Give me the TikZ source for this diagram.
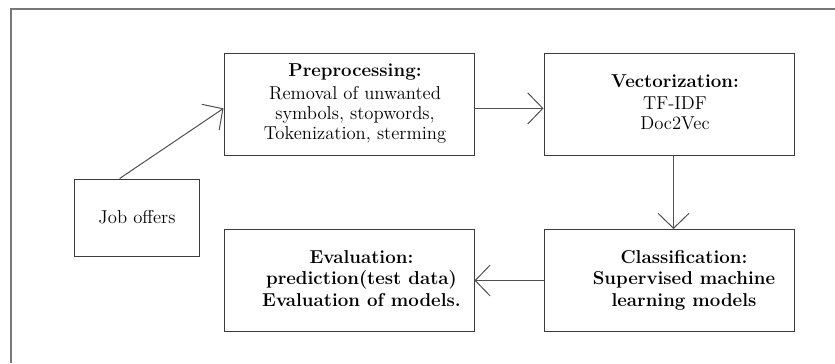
\documentclass[tikz,border=0pt]{standalone}
\usepackage{tikz}
\usetikzlibrary{arrows.meta}
\definecolor{cframe}{RGB}{120,120,120}
\definecolor{cline}{RGB}{60,60,60}
\definecolor{carrow}{RGB}{80,80,80}
% text block of a stage, moved off centre by #1 (right) and #2 (up)
\newcommand{\stagetext}[3]{%
  \hspace*{#1}\raisebox{#2}{\begin{tabular}{@{}c@{}}#3\end{tabular}}}
\begin{document}
\begin{tikzpicture}[
  x=0.6pt,y=-0.6pt,
  font=\fontsize{11.2pt}{12pt}\selectfont,
  >={Straight Barb[length=9pt,width=18.6pt]},
  stagebox/.style={draw=cline,line width=0.6pt,align=center,
                   minimum width=150pt,minimum height=61.2pt,inner sep=0pt},
  boldstage/.style={stagebox,font=\fontsize{11.2pt}{13pt}\selectfont\bfseries},
  flow/.style={carrow,->,line width=0.6pt},
]
\useasboundingbox (0,0) rectangle (835,363);

% ===== FRAME =====
\draw[cframe,line width=1.5pt] (11,363)--(11,9)--(835,9);

% ===== STAGES =====
\node[draw=cline,line width=0.6pt,minimum width=75pt,minimum height=46.2pt,inner sep=0pt]
  (job) at (137,217.5) {Job offers};
\node[stagebox] (pre) at (349,104)
  {\stagetext{7.2pt}{0.6pt}{\textbf{Preprocessing:}\\[2pt]Removal of unwanted\\symbols, stopwords,\\Tokenization, sterming}};
\node[stagebox] (vec) at (669,104)
  {\stagetext{7.2pt}{-3pt}{\textbf{Vectorization:}\\[1.2pt]TF-IDF\\Doc2Vec}};
\node[boldstage] (eva) at (349,280.5)
  {\stagetext{15pt}{-2.9pt}{Evaluation:\\prediction(test data)\\Evaluation of models.}};
\node[boldstage] (cla) at (669,280.5)
  {\stagetext{18pt}{-2.9pt}{Classification:\\Supervised machine\\learning models}};

% ===== ARROWS =====
\draw[flow] (job.114)--(pre.182);
\draw[flow] (pre.-2)--(vec.182);
\draw[flow] (vec.-85)--(cla.85);
\draw[flow] (cla.west)--(eva.east);

\end{tikzpicture}
\end{document}
